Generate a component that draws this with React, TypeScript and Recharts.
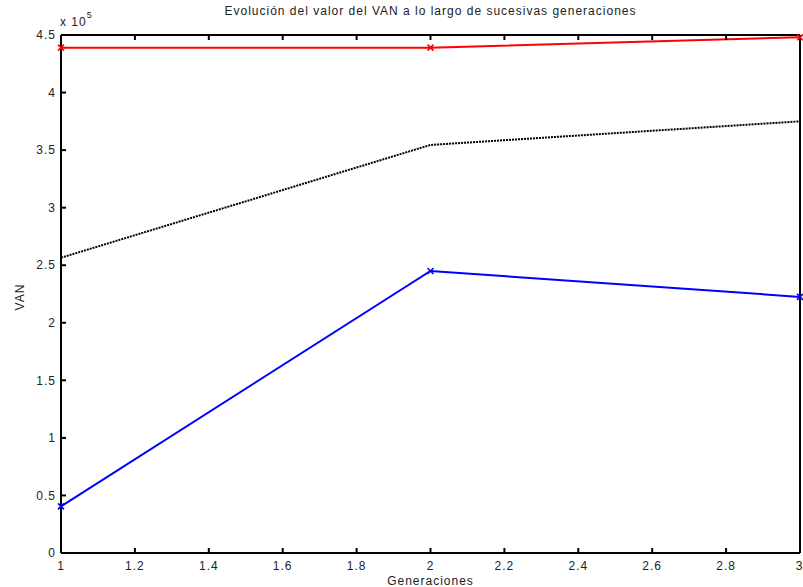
import { LineChart, Line, XAxis, YAxis } from 'recharts'

const generations = [1, 2, 3]
const vanBest = [439000, 439000, 448000]
const vanMean = [256500, 354500, 375000]
const vanWorst = [40500, 245000, 222500]

const xTicks = [1, 1.2, 1.4, 1.6, 1.8, 2, 2.2, 2.4, 2.6, 2.8, 3]
const yTicks = [0, 50000, 100000, 150000, 200000, 250000, 300000, 350000, 400000, 450000]

const data = generations.map((g, i) => ({
  gen: g,
  best: vanBest[i],
  mean: vanMean[i],
  worst: vanWorst[i],
}))

const font = '"Liberation Sans", Arial, sans-serif'
const tickStyle = { fontSize: 12, fill: '#222', fontFamily: font, letterSpacing: 1 }

function Cross(color: string) {
  return (props: any) => {
    const { cx, cy, index } = props
    if (cx == null || cy == null) return <g key={index} />
    const s = 3
    return (
      <g key={index} stroke={color} strokeWidth={1.6}>
        <line x1={cx - s} y1={cy - s} x2={cx + s} y2={cy + s} />
        <line x1={cx - s} y1={cy + s} x2={cx + s} y2={cy - s} />
      </g>
    )
  }
}

export default function App() {
  return (
    <div style={{ position: 'absolute', left: 0, top: 0, width: 803, height: 587, background: '#fff', fontFamily: font, overflow: 'hidden' }}>
      <LineChart width={803} height={587} data={data} margin={{ top: 34, right: 2, bottom: 33, left: 60 }}>
        <XAxis
          dataKey="gen"
          type="number"
          domain={[1, 3]}
          ticks={xTicks}
          height={1}
          tickSize={-5}
          tickMargin={13}
          stroke="#000"
          strokeWidth={2}
          tick={tickStyle}
          tickFormatter={(v) => String(v)}
        />
        <XAxis
          xAxisId="top"
          orientation="top"
          dataKey="gen"
          type="number"
          domain={[1, 3]}
          ticks={xTicks}
          height={1}
          tickSize={-5}
          stroke="#000"
          strokeWidth={2}
          tickFormatter={() => ''}
        />
        <YAxis
          type="number"
          domain={[0, 450000]}
          ticks={yTicks}
          width={1}
          tickSize={-5}
          tickMargin={10}
          stroke="#000"
          strokeWidth={2}
          tick={tickStyle}
          tickFormatter={(v) => String(v / 100000)}
        />
        <YAxis
          yAxisId="right"
          orientation="right"
          type="number"
          domain={[0, 450000]}
          ticks={yTicks}
          width={1}
          tickSize={-5}
          stroke="#000"
          strokeWidth={2}
          tickFormatter={() => ''}
        />
        <Line dataKey="best" stroke="#ff0000" strokeWidth={2} dot={Cross('#ff0000')} isAnimationActive={false} />
        <Line dataKey="mean" stroke="#000" strokeWidth={2} strokeDasharray="2 1" dot={false} isAnimationActive={false} />
        <Line dataKey="worst" stroke="#0000ff" strokeWidth={2} dot={Cross('#0000ff')} isAnimationActive={false} />
      </LineChart>
      <div style={{ position: 'absolute', left: 0, width: 861, top: 4, textAlign: 'center', fontSize: 12, letterSpacing: 1, color: '#222' }}>
        Evolución del valor del VAN a lo largo de sucesivas generaciones
      </div>
      <div style={{ position: 'absolute', left: 60, top: 13, fontSize: 12, letterSpacing: 1, color: '#222' }}>
        x 10<sup style={{ fontSize: 9, position: 'relative', top: -3 }}>5</sup>
      </div>
      <div style={{ position: 'absolute', left: 0, width: 861, top: 575, lineHeight: '12px', textAlign: 'center', fontSize: 12, letterSpacing: 1, color: '#222' }}>
        Generaciones
      </div>
      <div style={{ position: 'absolute', left: 20, top: 297, fontSize: 12, letterSpacing: 1, color: '#222', transform: 'translate(-50%, -50%) rotate(-90deg)', whiteSpace: 'nowrap' }}>
        VAN
      </div>
    </div>
  )
}
